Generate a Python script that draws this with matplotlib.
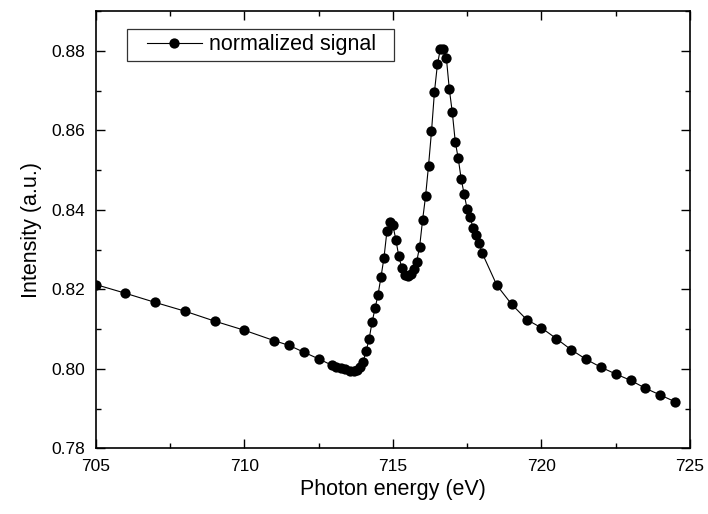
import numpy as np
import matplotlib
matplotlib.use('Agg')
from matplotlib import pyplot as plt
from matplotlib.ticker import MultipleLocator
from matplotlib.legend_handler import HandlerLine2D

plt.rcParams['font.family'] = ['Liberation Sans', 'DejaVu Sans']

energy = [705.0, 706.0, 707.0, 708.0, 709.0, 710.0, 711.0, 711.5, 712.0, 712.5,
          712.95, 713.1, 713.25, 713.4, 713.55, 713.7, 713.8, 713.9, 714.0,
          714.1, 714.2, 714.3, 714.4, 714.5, 714.6, 714.7, 714.8, 714.9, 715.0,
          715.1, 715.2, 715.3, 715.4, 715.5, 715.6, 715.7, 715.8, 715.9, 716.0,
          716.1, 716.2, 716.3, 716.4, 716.5, 716.6, 716.7, 716.8, 716.9, 717.0,
          717.1, 717.2, 717.3, 717.4, 717.5, 717.6, 717.7, 717.8, 717.9, 718.0,
          718.5, 719.0, 719.5, 720.0, 720.5, 721.0, 721.5, 722.0, 722.5, 723.0,
          723.5, 724.0, 724.5]
signal = [0.8212, 0.8190, 0.8167, 0.8145, 0.8120, 0.8097, 0.8071, 0.8059, 0.8042, 0.8025,
          0.8009, 0.8005, 0.8002, 0.8000, 0.7995, 0.7995, 0.7998, 0.8005, 0.8018,
          0.8045, 0.8075, 0.8117, 0.8152, 0.8186, 0.8231, 0.8279, 0.8346, 0.8370, 0.8361,
          0.8325, 0.8283, 0.8254, 0.8237, 0.8233, 0.8238, 0.8250, 0.8269, 0.8307, 0.8374,
          0.8434, 0.8511, 0.8597, 0.8697, 0.8766, 0.8805, 0.8804, 0.8782, 0.8703, 0.8645,
          0.8571, 0.8529, 0.8477, 0.8439, 0.8402, 0.8382, 0.8353, 0.8336, 0.8317, 0.8292,
          0.8210, 0.8162, 0.8124, 0.8103, 0.8076, 0.8048, 0.8024, 0.8004, 0.7987, 0.7971,
          0.7951, 0.7934, 0.7917]

fig = plt.figure(figsize=(7.08, 5.14), dpi=100)
ax = fig.add_axes([0.1352, 0.1278, 0.8394, 0.8508])

line, = ax.plot(energy, signal, color='black', lw=0.8, marker='o', ms=7.4,
                markeredgewidth=0, label='normalized signal  ')

ax.set_xlim(705, 725)
ax.set_ylim(0.78, 0.89)
ax.xaxis.set_major_locator(MultipleLocator(5))
ax.xaxis.set_minor_locator(MultipleLocator(2.5))
ax.yaxis.set_major_locator(MultipleLocator(0.02))
ax.yaxis.set_minor_locator(MultipleLocator(0.01))
ax.tick_params(which='both', direction='in', top=True, right=True,
               labelsize=12.5, pad=7.5)
ax.tick_params(which='major', length=6.7, width=1)
ax.tick_params(which='minor', length=3.3, width=1)
for s in ax.spines.values():
    s.set_linewidth(1.2)

ax.set_xlabel('Photon energy (eV)', fontsize=15.5, labelpad=4)
ax.set_ylabel('Intensity (a.u.)', fontsize=15.5, labelpad=7)

leg = ax.legend(loc='upper left', bbox_to_anchor=(0.0532, 0.9588), fontsize=15.5,
                handlelength=3.21, handletextpad=0.35, fancybox=False,
                framealpha=1, borderpad=0.25, borderaxespad=0,
                edgecolor='#333333',
                handler_map={line: HandlerLine2D(xpad=0.65)})
leg.get_frame().set_linewidth(0.9)

fig.savefig('out.png', dpi=100)
